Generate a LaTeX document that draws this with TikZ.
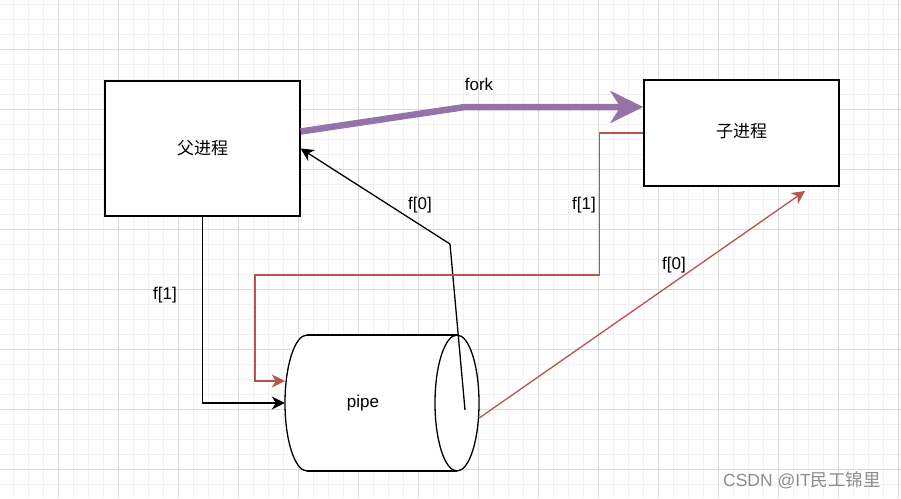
\documentclass[tikz,border=0pt]{standalone}
\usepackage{fontspec}
\setmainfont{Liberation Sans}
\newfontfamily\cjk{Noto Sans CJK SC}
\usetikzlibrary{arrows.meta}
\definecolor{forkpurple}{HTML}{9673A6}
\definecolor{pipered}{HTML}{B85450}
\definecolor{gridminor}{HTML}{F1F1F1}
\definecolor{gridmajor}{HTML}{DADADA}
\definecolor{wmgray}{HTML}{8C8C8C}
\begin{document}
\begin{tikzpicture}[x=1pt,y=-1pt,
  every node/.style={font=\fontsize{17}{20}\selectfont},
  procbox/.style={draw=black,line width=1.3pt,fill=white,inner sep=0pt},
  lbl/.style={inner sep=0pt},
  blk/.style={draw=black,line width=1.3pt,-{Stealth[length=13pt,width=13pt,inset=4pt]}},
  redc/.style={draw=pipered,line width=1.3pt,-{Stealth[length=13pt,width=13pt,inset=4pt]}},
  forkc/.style={draw=forkpurple,line width=6.5pt,-{Stealth[length=33pt,width=32pt,inset=10pt]}},
  pipeline/.style={draw=black,line width=1.3pt}]
\useasboundingbox (0,0) rectangle (901,498);
\fill[white] (0,0) rectangle (901,498);
% grid
\foreach \i in {0,...,59} \draw[gridminor,line width=1pt] ({13.3+15*\i},0) -- ({13.3+15*\i},498);
\foreach \i in {0,...,33} \draw[gridminor,line width=1pt] (0,{4.3+15*\i}) -- (901,{4.3+15*\i});
\foreach \i in {0,...,14} \draw[gridmajor,line width=1pt] ({58.3+60*\i},0) -- ({58.3+60*\i},498);
\foreach \i in {0,...,7} \draw[gridmajor,line width=1pt] (0,{49.3+60*\i}) -- (901,{49.3+60*\i});
% boxes
\node[procbox,minimum width=195,minimum height=135] (parent) at (202.5,148.5) {\cjk 父进程};
\node[procbox,minimum width=195,minimum height=106] (child) at (741.5,133) {};
\node[lbl] (childtext) at (741.5,131.5) {\cjk 子进程};
% pipe (cylinder)
\fill[white] (307,335) -- (457,335) -- (457,471) -- (307,471) arc[start angle=90,end angle=270,x radius=22,y radius=68] -- cycle;
\fill[white] (457,403) ellipse[x radius=22,y radius=68];
\draw[pipeline] (307,335) -- (457,335);
\draw[pipeline] (307,471) -- (457,471);
\draw[pipeline] (307,335) arc[start angle=270,end angle=90,x radius=22,y radius=68];
\draw[pipeline] (457,403) ellipse[x radius=22,y radius=68];
\node[inner sep=0pt,minimum width=194,minimum height=136] (pipe) at (382,403) {};
\node[lbl] (pipetext) at (363,403) {pipe};
\coordinate (pipeend) at (465,410);
\coordinate (c0tip) at (805,191);
% connectors
\draw[forkc] ([yshift=17pt]parent.east) -- (465,107) -- ([yshift=26pt]child.west);
\draw[blk] (parent.south) |- (pipe.west);
\draw[blk] (pipeend) -- (450,244) -- (parent.east);
\draw[redc] (child.west) -- ++(-44,0) |- (255,275) |- ([yshift=22pt]pipe.west);
\draw[redc] ([yshift=-15pt]pipe.east) -- (c0tip);
% labels
\node[lbl] (lfork) at (479,84) {fork};
\node[lbl] (lpf0) at (420,205) {f[0]};
\node[lbl] (lpf1) at (165,295) {f[1]};
\node[lbl] (lcf1) at (584,205) {f[1]};
\node[lbl] (lcf0) at (674,265) {f[0]};
% watermark
\node[lbl,text=wmgray,font=\fontsize{17.5}{20}\selectfont] (wm) at (802,480) {CSDN @IT{\cjk 民工锦里}};
\end{tikzpicture}
\end{document}
